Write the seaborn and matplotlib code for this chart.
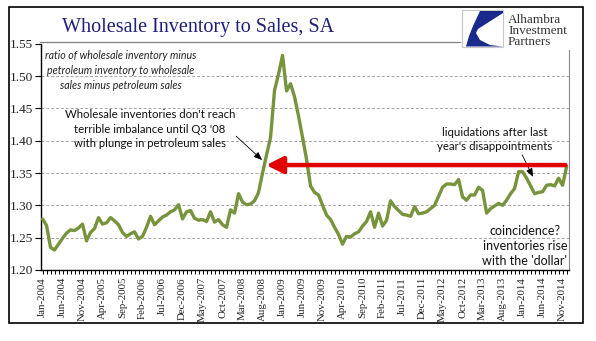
import numpy as np
import pandas as pd
import matplotlib
matplotlib.use("Agg")
import matplotlib.pyplot as plt
from matplotlib.patches import Rectangle, Polygon
from matplotlib.lines import Line2D
import seaborn as sns

# Monthly ratio, Jan-2004 .. Dec-2014
months = pd.date_range("2004-01-01", periods=132, freq="MS")
ratio = [
    1.279, 1.269, 1.235, 1.231, 1.240, 1.249, 1.257, 1.262, 1.261, 1.265, 1.271, 1.245,
    1.258, 1.264, 1.281, 1.271, 1.273, 1.281, 1.276, 1.270, 1.258, 1.252, 1.256, 1.259,
    1.248, 1.252, 1.266, 1.283, 1.270, 1.276, 1.282, 1.285, 1.290, 1.293, 1.301, 1.279,
    1.290, 1.292, 1.280, 1.277, 1.278, 1.275, 1.290, 1.274, 1.278, 1.270, 1.266, 1.293,
    1.288, 1.318, 1.305, 1.301, 1.302, 1.307, 1.320, 1.350, 1.378, 1.405, 1.478, 1.503,
    1.532, 1.477, 1.488, 1.468, 1.438, 1.405, 1.371, 1.330, 1.320, 1.316, 1.300, 1.285,
    1.278, 1.266, 1.255, 1.240, 1.252, 1.251, 1.256, 1.259, 1.268, 1.275, 1.290, 1.266,
    1.288, 1.268, 1.277, 1.307, 1.298, 1.292, 1.286, 1.285, 1.283, 1.298, 1.287, 1.288,
    1.290, 1.295, 1.300, 1.314, 1.328, 1.333, 1.333, 1.332, 1.340, 1.313, 1.308, 1.316,
    1.316, 1.328, 1.323, 1.288, 1.295, 1.299, 1.303, 1.300, 1.308, 1.318, 1.326, 1.352,
    1.352, 1.342, 1.330, 1.318, 1.320, 1.321, 1.331, 1.332, 1.330, 1.342, 1.331, 1.360,
]
ref_level = 1.3623
y_ticks = [1.20, 1.25, 1.30, 1.35, 1.40, 1.45, 1.50, 1.55]
tick_step = 5

title = "Wholesale Inventory to Sales, SA"
note_ratio = "ratio of wholesale inventory minus\npetroleum inventory to wholesale\nsales minus petroleum sales"
note_q3 = "Wholesale inventories don't reach\nterrible imbalance until Q3 '08\nwith plunge in petroleum sales"
note_liq = "liquidations after last\nyear's disappointments"
note_dollar = "coincidence?\ninventories rise\nwith the 'dollar'"

df = pd.DataFrame({"idx": np.arange(len(ratio)), "ratio": ratio})

sns.set_style("white")
plt.rcParams["font.family"] = ["Liberation Serif", "DejaVu Serif"]

W, H = 596, 341
fig = plt.figure(figsize=(W / 100, H / 100), dpi=100)


def fx(x):
    return x / W


def fy(y):
    return 1 - y / H


ax = fig.add_axes([fx(41), fy(270), fx(569) - fx(41), fy(43.7) - fy(270)])

GREEN = "#77933C"
sns.lineplot(data=df, x="idx", y="ratio", ax=ax, color=GREEN, linewidth=2.4,
             solid_joinstyle="round", solid_capstyle="round", zorder=3)

ax.set_xlim(-0.375, 131.6)
ax.set_ylim(1.20, 1.55)
ax.set_xlabel("")
ax.set_ylabel("")

# gridlines
for v in y_ticks[1:-1]:
    ax.axhline(v, color="#A6A6A6", lw=0.7, ls=(0, (3, 2)), zorder=1)

ax.set_yticks(y_ticks)
ax.set_yticklabels([f"{v:.2f}" for v in y_ticks], fontsize=9.5, color="#222222")
major = list(range(0, len(ratio), tick_step))
ax.set_xticks(np.arange(len(ratio)), minor=True)
ax.set_xticks(major)
ax.set_xticklabels([months[i].strftime("%b-%Y") for i in major], rotation=90,
                   fontsize=7.8, color="#222222")
ax.tick_params(axis="y", which="major", direction="out", length=4, width=0.8,
               color="black", pad=2, left=True)
ax.tick_params(axis="x", which="both", direction="out", length=3, width=0.7,
               color="black", pad=2, bottom=True)

for side in ["left", "bottom"]:
    ax.spines[side].set_color("black")
    ax.spines[side].set_linewidth(1.0)
ax.spines["top"].set_visible(False)
ax.spines["right"].set_color("#888888")
ax.spines["right"].set_linewidth(0.8)
ax.spines["right"].set_bounds(1.20, 1.54)

# red reference arrow
ax.annotate("", xy=(55.9, ref_level), xytext=(130.7, ref_level),
            arrowprops=dict(arrowstyle="-|>,head_length=1.0,head_width=0.5",
                            color="#E00000", lw=3.2, shrinkA=0, shrinkB=0),
            zorder=4)

SANS = ["Lato", "DejaVu Sans"]
ax.text(19.6, 1.509, note_ratio, ha="center", va="center", fontsize=7.7,
        style="italic", family=SANS, color="#222222", linespacing=1.45)
ax.text(26.9, 1.418, note_q3, ha="center", va="center", fontsize=8.2,
        family=SANS, color="#111111", linespacing=1.35)
ax.text(113.1, 1.402, note_liq, ha="center", va="center", fontsize=8.3,
        family=SANS, color="#111111", linespacing=1.35)
ax.text(120.6, 1.237, note_dollar, ha="center", va="center", fontsize=9.0,
        family=SANS, color="#111111", linespacing=1.3)

ax.annotate("", xy=(54.9, 1.370), xytext=(48.4, 1.407),
            arrowprops=dict(arrowstyle="-|>,head_length=0.5,head_width=0.2",
                            color="black", lw=0.6, shrinkA=0, shrinkB=0))
ax.annotate("", xy=(122.6, 1.344), xytext=(119.9, 1.378),
            arrowprops=dict(arrowstyle="-|>,head_length=0.5,head_width=0.2",
                            color="black", lw=0.6, shrinkA=0, shrinkB=0))

# title and decoration
fig.text(fx(62), fy(32), title, ha="left", va="baseline", fontsize=14.5,
         color="#1F1F7A")
fig.add_artist(Line2D([fx(40), fx(460)], [fy(42), fy(42)], color="#808080", lw=0.9))

# logo
fig.add_artist(Rectangle((fx(462), fy(47)), fx(503) - fx(462), fy(10) - fy(47),
                         facecolor="white", edgecolor="#C8C8C8", lw=0.8))
logo_pts = [(480, 11), (503, 11), (503, 13), (478, 29), (476, 33), (480, 40),
            (490, 45), (503, 46.5), (466, 46.5), (469, 36), (473, 26)]
fig.add_artist(Polygon([(fx(x), fy(y)) for x, y in logo_pts], closed=True,
                       facecolor="#1A2A8C", edgecolor="none"))
fig.text(fx(508), fy(23), "Alhambra", ha="left", va="baseline", fontsize=9.5, color="#333333")
fig.text(fx(508), fy(34), "Investment", ha="left", va="baseline", fontsize=9.5, color="#333333")
fig.text(fx(508), fy(45), "Partners", ha="left", va="baseline", fontsize=9.5, color="#333333")

# outer frame
fig.add_artist(Rectangle((fx(9), fy(323)), fx(583) - fx(9), fy(7) - fy(323),
                         facecolor="none", edgecolor="black", lw=1.2))

fig.savefig("out.png", dpi=100, facecolor="white")
